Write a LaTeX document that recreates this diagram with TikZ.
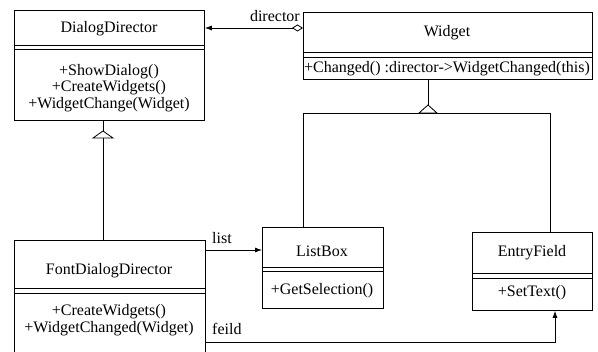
\documentclass[tikz,border=0pt]{standalone}
\usepackage{fontspec}
\setmainfont{Liberation Serif}
\usetikzlibrary{arrows.meta,calc}
\begin{document}
\begin{tikzpicture}[x=1pt,y=-1pt,
  font=\fontsize{16}{16.8}\selectfont,
  classbox/.style={draw, line width=0.8pt, inner sep=0pt, anchor=north west},
  txt/.style={inner sep=0pt, align=center},
  conn/.style={line width=0.8pt},
  nav/.style={-{Latex[length=7pt,width=5pt]}},
  gentri/.style={line width=0.8pt, fill=white},
]
\useasboundingbox (0,0) rectangle (598,352);

% ---------- DialogDirector
\node[classbox, minimum width=190pt, minimum height=110pt] (dd) at (14,10) {};
\node[txt] (ddt) at (109,29) {DialogDirector};
\draw[conn] (14,45) -- (204,45);
\draw[conn] (14,49) -- (204,49);
\node[txt] (ddm) at (109,88) {+ShowDialog()\\+CreateWidgets()\\+WidgetChange(Widget)};

% ---------- Widget
\node[classbox, minimum width=289pt, minimum height=67pt] (w) at (303,12) {};
\node[txt] (wt) at (447,33) {Widget};
\draw[conn] (303,52) -- (592,52);
\draw[conn] (303,57) -- (592,57);
\node[txt] (wm) at (447,69) {+Changed() :director->WidgetChanged(this)};

% ---------- FontDialogDirector
\node[classbox, minimum width=191pt, minimum height=116pt] (fdd) at (14,240) {};
\node[txt] (fddt) at (109,271) {FontDialogDirector};
\draw[conn] (14,288) -- (205,288);
\draw[conn] (14,293) -- (205,293);
\node[txt] (fddm) at (109,320) {+CreateWidgets()\\+WidgetChanged(Widget)};

% ---------- ListBox
\node[classbox, minimum width=121pt, minimum height=81pt] (lb) at (262,227) {};
\node[txt] (lbt) at (322,251) {ListBox};
\draw[conn] (262,267) -- (383,267);
\draw[conn] (262,271) -- (383,271);
\node[txt] (lbm) at (322,291) {+GetSelection()};

% ---------- EntryField
\node[classbox, minimum width=120pt, minimum height=78pt] (ef) at (472,232) {};
\node[txt] (eft) at (532,253) {EntryField};
\draw[conn] (472,273) -- (592,273);
\draw[conn] (472,278) -- (592,278);
\node[txt] (efm) at (532,293) {+SetText()};

% ---------- connectors
\coordinate (dirY) at (0,28);
\draw[conn, {Diamond[open,length=11pt,width=7pt]}-{Latex[length=7pt,width=5pt]}]
  (w.west |- dirY) -- (dd.east |- dirY);
\node[txt, anchor=south east] (dirlbl) at (300,22) {director};

% generalization FontDialogDirector -> DialogDirector
\coordinate (gx) at (103,0);
\draw[conn] (gx |- fdd.north) -- (gx |- dd.south);
\draw[gentri] (103,131) -- (113,138) -- (93,138) -- cycle;

% generalization ListBox, EntryField -> Widget
\coordinate (lbx) at (303,0);
\coordinate (efx) at (550,0);
\coordinate (wx) at (428,0);
\coordinate (busY) at (0,113);
\draw[conn] (lbx |- lb.north) -- (lbx |- busY) -- (efx |- busY) -- (efx |- ef.north);
\draw[conn] (wx |- w.south) -- (428,106);
\draw[gentri] (428,105) -- (437,113) -- (419,113) -- cycle;

% list
\coordinate (listY) at (0,250);
\draw[conn, nav] (fdd.east |- listY) -- (lb.west |- listY);
\node[txt, anchor=south west] (listlbl) at (212,244) {list};

% feild
\coordinate (feY) at (0,342);
\coordinate (fex) at (555,0);
\draw[conn, nav] (fdd.east |- feY) -- (fex |- feY) -- (fex |- ef.south);
\node[txt, anchor=south west] (feildlbl) at (212,335) {feild};
\end{tikzpicture}
\end{document}
